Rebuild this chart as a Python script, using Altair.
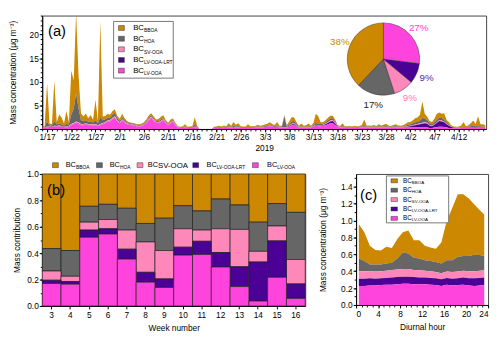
import altair as alt
import pandas as pd

FONT = "Liberation Sans"

COMPONENTS = ["BBOA", "HOA", "SV-OOA", "LV-OOA-LRT", "LV-OOA"]
COLORS = ["#cc8800", "#666666", "#ff88bb", "#4b0096", "#ff44dd"]
STACK_RANK = [4, 3, 2, 1, 0]

# ---------------- (a) time series, 12-hourly from 2019-01-16 00:00 ----------------
TS_START = "2019-01-16"
TS_LV = [
    .3, .3, .3, .4, .4, .5, .5, .6, .5, .4,
    .3, .5, .8, 1.0, 1.2, 1.0, .8, .8, .9, .8,
    .8, .7, .8, .6, .8, 1.0, 1.2, 1.5, 1.6, 2.0,
    2.4, 1.6, 1.2, 1.8, 1.3, 1.0, .9, .8, .7, .6,
    .5, .6, .8, 1.2, 1.8, 2.4, 1.8, 1.3, 1.2, 1.5,
    1.8, 1.2, .8, 1.2, 1.5, .8, .3, .2, .2, .3,
    .2, .2, .2, .4, .3, 0, 0, 0, 0, 0,
    0, .2, .2, .2, .2, .25, .2, .3, .3, .4,
    .3, .3, .2, .2, .2, .2, .2, .2, .25, .3,
    .3, .3, .4, .5, .6, .5, .4, .5, .3, .3,
    .3, .3, .5, .8, .9, .5, .3, .3, .3, .3,
    .3, .3, .5, .7, .6, .6, .7, .8, 1.0, 1.2,
    1.2, .8, .4, .3, .3, .25, .2, .25, .2, .25,
    .2, .25, .3, .3, .3, .3, .25, .3, .25, .3,
    .3, .3, .3, .3, .25, .3, .3, .3, .3, .3,
    .3, .3, .3, .3, .3, .3, .3, .3, .3, .3,
    .2, .2, .3, .4, .5, .5, .4, .3, .2, .2,
    .15, .15, .15, .2, .2, .2, .2, .25, .25, .2,
    .3, .25, .2, .2]
TS_LRT = [
    .05, .05, .05, .05, .05, .05, .05, .05, .05, .05,
    .05, .05, .05, .05, .1, .1, .05, .05, .05, .05,
    .05, .05, .05, .05, .05, .05, .05, .05, .05, .05,
    .05, .05, .05, .05, .05, .05, .05, .05, .05, .05,
    .05, .05, .05, .05, .05, .05, .05, .05, .05, .05,
    .05, .05, .05, .05, .05, .05, .05, .05, .05, .05,
    .05, .05, .05, .05, .05, 0, 0, 0, 0, 0,
    0, .05, .05, .05, .05, .05, .05, .05, .05, .05,
    .05, .05, .05, .05, .05, .05, .05, .05, .05, .05,
    .05, .05, .05, .05, .05, .05, .05, .05, .05, .05,
    .05, .05, .1, .15, .15, .1, .05, .05, .05, .05,
    .05, .05, .05, .1, .1, .1, .1, .2, .3, .4,
    .5, .3, .1, .05, .05, .05, .05, .05, .05, .05,
    .05, .05, .05, .05, .05, .05, .05, .05, .05, .05,
    .05, .05, .05, .05, .05, .05, .05, .05, .05, .05,
    .1, .2, .3, .4, .5, .6, .7, .8, .9, .8,
    .5, .4, .6, .9, 1.2, 1.1, 1.0, .7, .5, .2,
    .1, .05, .05, .05, .05, .05, .05, .1, .1, .1,
    .1, .1, .05, .05]
TS_SV = [
    .05, .05, .1, .1, .1, .15, .1, .1, .1, .1,
    .1, .1, .2, .2, .3, .3, .2, .2, .2, .2,
    .2, .2, .2, .15, .2, .2, .2, .25, .25, .3,
    .3, .2, .2, .2, .2, .15, .1, .1, .1, .1,
    .1, .1, .1, .15, .2, .2, .2, .15, .15, .15,
    .2, .15, .1, .15, .15, .1, .05, .05, .05, .05,
    .05, .05, .05, .1, .05, 0, 0, 0, 0, 0,
    0, .05, .05, .05, .05, .05, .05, .05, .05, .05,
    .05, .05, .05, .05, .05, .05, .05, .05, .05, .05,
    .05, .05, .05, .05, .1, .05, .05, .05, .05, .05,
    .05, .05, .1, .15, .15, .1, .05, .05, .05, .05,
    .05, .05, .1, .1, .1, .1, .1, .15, .2, .2,
    .2, .15, .05, .05, .05, .05, .05, .05, .05, .05,
    .05, .05, .05, .05, .05, .05, .05, .05, .05, .05,
    .05, .05, .05, .05, .05, .05, .05, .05, .05, .05,
    .05, .1, .1, .1, .15, .15, .2, .2, .2, .2,
    .1, .1, .1, .15, .2, .2, .15, .1, .1, .05,
    .05, .05, .05, .05, .05, .05, .05, .05, .05, .05,
    .05, .05, .05, .05]
TS_HOA = [
    .1, .1, 1.2, .2, .2, 1.0, .3, .4, .3, .2,
    .6, .3, 2.0, 3.0, 6.0, 3.0, .8, .6, .7, .5,
    .5, .4, .8, .4, 1.5, .6, .6, .6, .5, .6,
    .7, .4, .3, .4, .3, .2, .2, .15, .15, .15,
    .15, .15, .2, .25, .3, .3, .3, .2, .25, .3,
    .3, .2, .15, .2, .2, .15, .1, .1, .1, .15,
    .1, .1, .1, .4, .1, 0, 0, 0, 0, 0,
    0, .1, .1, .1, .1, .15, .1, .2, .1, .2,
    .15, .2, .1, .1, .1, .15, .1, .1, .1, .15,
    .1, .1, .15, .15, .2, .15, .1, .2, .1, .1,
    2.3, .15, .3, .5, .5, .3, .1, .15, .1, .1,
    .15, .1, .2, .4, .3, .25, .2, .3, .4, .4,
    .4, .3, .1, .1, .2, .1, .1, .1, .1, .1,
    .1, .1, .15, .2, .1, .1, .1, .15, .1, .15,
    .1, .15, .2, .1, .1, .15, .2, .1, .1, .15,
    .2, .3, .3, .4, .5, .5, .6, 1.0, .8, .6,
    .4, .3, .4, .5, .5, .5, .4, .3, .2, .1,
    .1, .1, .1, .15, .2, .1, .15, .2, .3, .2,
    .4, .2, .2, .15]
TS_BB = [
    .2, .1, 8.1, .4, .3, 8.5, .5, 1.9, 1.5, .4,
    2.75, .5, 9.25, 6.0, 17.0, 7.0, 1.5, 1.0, 1.45, .7,
    1.4, .6, 4.35, .5, 20.25, .8, .7, .8, .6, .8,
    .75, .5, .4, .8, .4, .3, .2, .2, .2, .15,
    .2, .2, .25, .35, .5, .4, .35, .3, .45, .6,
    .55, .3, .2, .4, .3, .2, .1, .1, .2, .45,
    .1, .15, .2, 1.55, .2, 0, 0, 0, 0, 0,
    0, .1, .15, .3, .15, .25, .2, .6, .2, .8,
    .35, .6, .2, .15, .15, .55, .2, .2, .2, .35,
    .2, .3, .3, .35, .5, .3, .25, .7, .2, .2,
    .3, .25, .6, .9, .8, .4, .2, .6, .2, .3,
    .6, .2, .4, 1.9, 1.6, .4, .3, .4, .5, .6,
    .5, .4, .2, .15, .6, .15, .2, .2, .15, .25,
    .2, .2, .3, 1.4, .2, .25, .25, .3, .2, .45,
    .25, .35, .5, .25, .2, .3, .4, .25, .2, .25,
    .4, .5, .5, .6, .8, .9, 1.2, 3.5, 1.0, .7,
    .5, .5, .8, 1.3, 1.1, .9, 1.4, .5, .4, .2,
    .15, .15, .2, .3, 1.0, .2, .35, .6, 1.1, .5,
    1.85, .4, .5, .35]
A_TICKS = [(1, 17), (1, 22), (1, 27), (2, 1), (2, 6), (2, 11), (2, 16), (2, 21), (2, 26),
           (3, 3), (3, 8), (3, 13), (3, 18), (3, 23), (3, 28), (4, 2), (4, 7), (4, 12)]

# pie (overall contribution, %)
PIE_PCT = [38, 17, 9, 9, 27]
PIE_LABELS = ["38%", "17%", "9%", "9%", "27%"]
PIE_LABEL_COLORS = ["#cc8800", "#222222", "#ff77bb", "#5a1aa0", "#ff44dd"]
PIE_RANK = [4, 3, 2, 1, 0]

# ---------------- (b) weekly fractions ----------------
WEEKS = [3, 4, 5, 6, 7, 8, 9, 10, 11, 12, 13, 14, 15, 16]
WK_LV = [.17, .165, .52, .545, .355, .18, .14, .385, .39, .295, .147, .037, .217, .057]
WK_LRT = [.025, .02, .055, .04, .075, .075, .065, .06, .10, .11, .15, .296, .276, .11]
WK_SV = [.07, .04, .06, .07, .145, .23, .215, .14, .085, .18, .283, .081, .113, .185]
WK_HOA = [.17, .195, .12, .115, .165, .14, .245, .175, .145, .225, .185, .221, .17, .357]
WK_BB = [.565, .58, .245, .23, .26, .375, .335, .24, .28, .19, .235, .365, .224, .291]

# ---------------- (c) diurnal ----------------
DI_HOURS = [0.5, 1.5, 2.5, 3.5, 4.5, 5.5, 6.5, 7.5, 8.5, 9.5, 10.5, 11.5,
            12.5, 13.5, 14.5, 15.5, 16.5, 17.5, 18.5, 19.5, 20.5, 21.5, 22.5, 23.3]
DI_LV = [.225, .225, .23, .23, .235, .24, .24, .245, .25, .25, .245, .245,
         .245, .24, .235, .225, .24, .23, .235, .24, .23, .225, .23, .235]
DI_LRT = [.085, .085, .085, .08, .08, .08, .085, .085, .085, .085, .085, .08,
          .08, .08, .08, .08, .08, .08, .08, .085, .085, .09, .09, .09]
DI_SV = [.09, .09, .085, .085, .085, .085, .09, .09, .09, .09, .085, .085,
         .08, .08, .075, .07, .075, .08, .08, .08, .085, .085, .085, .085]
DI_HOA = [.15, .12, .08, .085, .08, .085, .085, .13, .195, .185, .145, .14,
          .125, .12, .12, .115, .135, .14, .175, .175, .18, .195, .185, .17]
DI_BB = [.405, .34, .22, .17, .165, .20, .175, .23, .24, .27, .205, .215,
         .17, .16, .155, .25, .47, .62, .74, .73, .68, .595, .53, .49]

# ---------------- build tables ----------------
RANK = dict(zip(COMPONENTS, STACK_RANK))
ONE = pd.DataFrame({"k": [0]})
color_scale = alt.Scale(domain=COMPONENTS, range=COLORS)


def long_table(xname, xvals, series):
    frames = []
    for comp, vals in series.items():
        frames.append(pd.DataFrame({xname: xvals, "v": vals, "comp": comp, "rk": RANK[comp]}))
    return pd.concat(frames, ignore_index=True)


times = pd.date_range(TS_START, periods=len(TS_LV), freq="12h").strftime("%Y-%m-%dT%H:%M:%S")
ts_long = long_table("t", list(times), {"BBOA": TS_BB, "HOA": TS_HOA, "SV-OOA": TS_SV,
                                        "LV-OOA-LRT": TS_LRT, "LV-OOA": TS_LV})
wk_long = long_table("week", WEEKS, {"BBOA": WK_BB, "HOA": WK_HOA, "SV-OOA": WK_SV,
                                     "LV-OOA-LRT": WK_LRT, "LV-OOA": WK_LV})
di_long = long_table("h", DI_HOURS, {"BBOA": DI_BB, "HOA": DI_HOA, "SV-OOA": DI_SV,
                                     "LV-OOA-LRT": DI_LRT, "LV-OOA": DI_LV})
pie_df = pd.DataFrame({"comp": COMPONENTS, "pct": PIE_PCT, "lab": PIE_LABELS, "rk": PIE_RANK})


def legend_layers(sym_x, text_x, ys, bc_size, sub_sizes, sub_dy, sym_w, sym_h):
    layers = []
    for name, col, sx, tx, yy, ss in zip(COMPONENTS, COLORS, sym_x, text_x, ys, sub_sizes):
        layers.append(alt.Chart(ONE).mark_rect(fill=col, stroke="#333", strokeWidth=0.5).encode(
            x=alt.value(sx), x2=alt.value(sx + sym_w),
            y=alt.value(yy - sym_h / 2), y2=alt.value(yy + sym_h / 2)))
        layers.append(alt.Chart(ONE).mark_text(text="BC", fontSize=bc_size, align="left",
                                               baseline="middle", font=FONT, color="black").encode(
            x=alt.value(tx), y=alt.value(yy)))
        layers.append(alt.Chart(ONE).mark_text(text=name, fontSize=ss, align="left",
                                               baseline="middle", font=FONT, color="black").encode(
            x=alt.value(tx + bc_size * 1.39), y=alt.value(yy + (sub_dy if ss < bc_size else 0.5))))
    return layers


def box(x1, x2, y1, y2):
    return alt.Chart(ONE).mark_rect(fill="white", stroke="#777", strokeWidth=1).encode(
        x=alt.value(x1), x2=alt.value(x2), y=alt.value(y1), y2=alt.value(y2))


def panel_label(txt, x, y):
    return alt.Chart(ONE).mark_text(text=txt, fontSize=15, align="left", baseline="middle",
                                    font=FONT, color="black").encode(x=alt.value(x), y=alt.value(y))


def minor_x(values, typ, axis_values):
    return alt.Chart(pd.DataFrame({"m": values})).mark_point(opacity=0).encode(
        x=alt.X(f"m:{typ}", axis=alt.Axis(orient="bottom", values=axis_values, labels=False,
                                          domain=False, tickSize=2, title=None, grid=False)))


def minor_y(values):
    return alt.Chart(pd.DataFrame({"m": values})).mark_point(opacity=0).encode(
        y=alt.Y("m:Q", axis=alt.Axis(orient="left", values=values, labels=False,
                                     domain=False, tickSize=2, title=None, grid=False)))


# ---------------- panel (a) ----------------
x_a = alt.X("t:T",
            scale=alt.Scale(domain=[alt.DateTime(year=2019, month=1, date=16),
                                    alt.DateTime(year=2019, month=4, date=17, hours=16)]),
            axis=alt.Axis(values=[alt.DateTime(year=2019, month=m, date=d) for m, d in A_TICKS],
                          format="%-m/%-d", title="2019", titlePadding=2, labelPadding=1,
                          tickSize=3, orient="bottom"))
area_a = alt.Chart(ts_long).mark_area(clip=True).encode(
    x=x_a,
    y=alt.Y("v:Q", stack="zero", scale=alt.Scale(domain=[0, 24], nice=False),
            axis=alt.Axis(values=[0, 5, 10, 15, 20], title="Mass concentration (μg m⁻³)",
                          titlePadding=12, orient="left")),
    color=alt.Color("comp:N", scale=color_scale, legend=None),
    order=alt.Order("rk:Q"))

days = pd.date_range("2019-01-16", "2019-04-17", freq="D")
minor_xa = minor_x(list(days.strftime("%Y-%m-%d")), "T",
                   [alt.DateTime(year=2019, month=int(d.month), date=int(d.day)) for d in days])
minor_ya = minor_y(list(range(0, 25)))

pie = alt.Chart(pie_df).mark_arc(radius=37, stroke="#333", strokeWidth=0.5).encode(
    theta=alt.Theta("pct:Q", stack=True),
    order=alt.Order("rk:Q"),
    color=alt.Color("comp:N", scale=color_scale, legend=None),
    x=alt.value(349), y=alt.value(44.5))
pie_txt = alt.Chart(pie_df).mark_text(radius=48, fontSize=10, font=FONT).encode(
    theta=alt.Theta("pct:Q", stack=True),
    order=alt.Order("rk:Q"),
    text="lab:N",
    color=alt.Color("comp:N", scale=alt.Scale(domain=COMPONENTS, range=PIE_LABEL_COLORS), legend=None),
    x=alt.value(349), y=alt.value(44.5))

legend_a = legend_layers(sym_x=[78] * 5, text_x=[93] * 5,
                         ys=[12.7, 23.7, 34.5, 45.4, 56.3],
                         bc_size=8, sub_sizes=[5] * 5, sub_dy=2.5, sym_w=6, sym_h=5)

panel_a = alt.layer(area_a, minor_xa, minor_ya, pie, pie_txt, box(73, 134, 6, 64),
                    *legend_a, panel_label("(a)", 6, 15.5)).resolve_scale(
    color="independent").resolve_axis(x="independent", y="independent").properties(
    width=454, height=116)

# ---------------- panel (b) ----------------
bars = alt.Chart(wk_long).mark_bar(stroke="#222", strokeWidth=0.7).encode(
    x=alt.X("week:O", scale=alt.Scale(paddingInner=0, paddingOuter=0),
            axis=alt.Axis(title="Week number", labelAngle=0, tickSize=3, labelPadding=2,
                          titlePadding=5)),
    y=alt.Y("v:Q", stack="zero", scale=alt.Scale(domain=[0, 1], nice=False),
            axis=alt.Axis(values=[0, 0.2, 0.4, 0.6, 0.8, 1.0], format=".1f",
                          title="Mass contribution", titlePadding=5.5, orient="left")),
    color=alt.Color("comp:N", scale=color_scale, legend=None),
    order=alt.Order("rk:Q"))
minor_yb = minor_y([0.1 * i for i in range(11)])
legend_b = legend_layers(sym_x=[10.5, 55.5, 97, 154, 215], text_x=[24, 69, 108, 168, 230],
                         ys=[-9] * 5, bc_size=7.5, sub_sizes=[5, 5, 8, 5, 5], sub_dy=2,
                         sym_w=6, sym_h=5)
panel_b = alt.layer(bars, minor_yb, *legend_b, panel_label("(b)", 5, 17)).resolve_axis(
    y="independent").properties(width=269, height=135)

# ---------------- panel (c) ----------------
area_c = alt.Chart(di_long).mark_area().encode(
    x=alt.X("h:Q", scale=alt.Scale(domain=[0, 24], nice=False),
            axis=alt.Axis(values=[0, 4, 8, 12, 16, 20, 24], title="Diurnal hour", tickSize=3,
                          labelPadding=2, titlePadding=5, orient="bottom")),
    y=alt.Y("v:Q", stack="zero", scale=alt.Scale(domain=[0, 1.55], nice=False),
            axis=alt.Axis(values=[0, 0.2, 0.4, 0.6, 0.8, 1.0, 1.2, 1.4], format=".1f",
                          title="Mass concentration (μg m⁻³)", titlePadding=13, orient="left")),
    color=alt.Color("comp:N", scale=color_scale, legend=None),
    order=alt.Order("rk:Q"))
minor_xc = minor_x(list(range(25)), "Q", list(range(25)))
minor_yc = minor_y([0.1 * i for i in range(16)])
legend_c = legend_layers(sym_x=[35.7] * 5, text_x=[48] * 5,
                         ys=[7, 16.6, 26.2, 35.8, 45.4],
                         bc_size=6.5, sub_sizes=[4.5] * 5, sub_dy=2, sym_w=6.6, sym_h=4)
spacer_c = alt.Chart(ONE).mark_text(text="BC", fontSize=8, opacity=0).encode(
    x=alt.value(20), y=alt.value(-9))
panel_c = alt.layer(area_c, minor_xc, minor_yc, box(31, 94.7, 2, 50), *legend_c,
                    panel_label("(c)", 4, 22), spacer_c).resolve_axis(
    x="independent", y="independent").properties(width=135, height=134)

chart = alt.vconcat(
    alt.hconcat(panel_a),
    alt.hconcat(panel_b, panel_c, spacing=12),
    spacing=8,
).properties(
    padding={"left": 0, "top": 0, "right": 0, "bottom": 0}
).configure(font=FONT).configure_axis(
    labelFont=FONT, titleFont=FONT, labelFontSize=8.5, titleFontSize=8.5,
    titleFontWeight="normal", labelColor="black", titleColor="black",
    domainColor="black", tickColor="black", grid=False, tickSize=3, labelPadding=1,
).configure_view(stroke="#444", strokeWidth=1)

chart.save("out.html", embed_options={"renderer": "svg", "actions": False})
